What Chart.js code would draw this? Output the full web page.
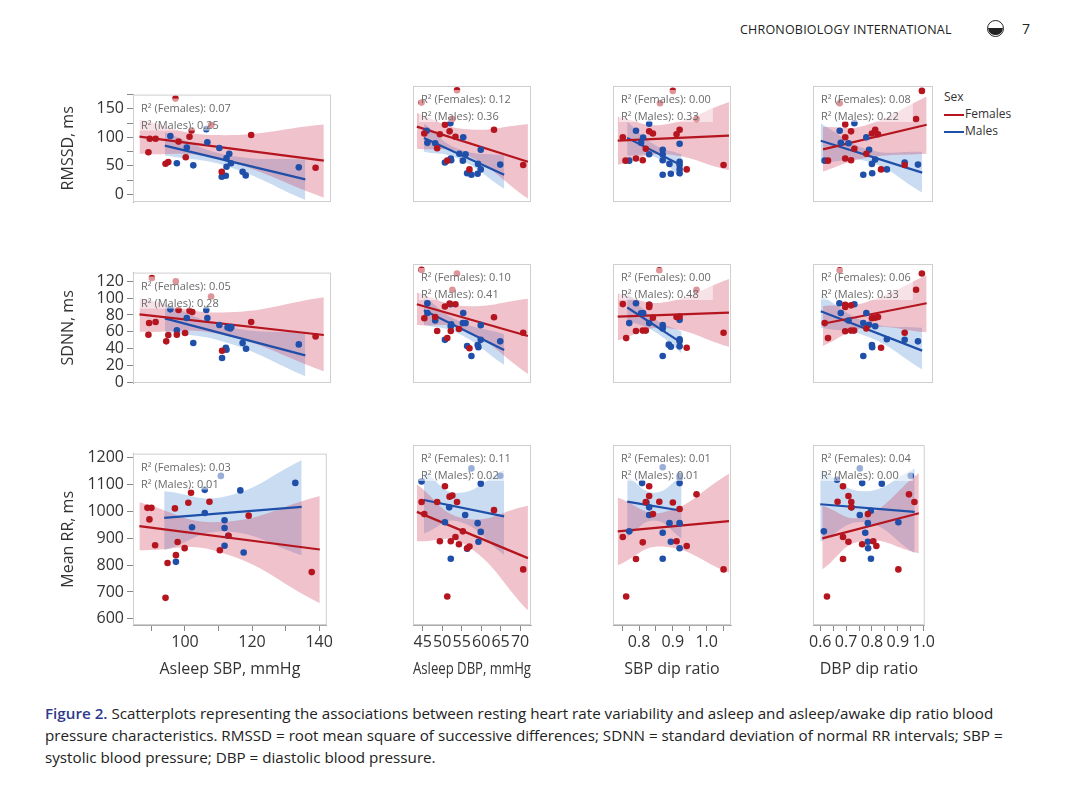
<!DOCTYPE html>
<html><head><meta charset="utf-8">
<script src="https://cdn.jsdelivr.net/npm/chart.js@4.4.1/dist/chart.umd.min.js"></script>
<style>
body{margin:0;background:#fff;font-family:"Open Sans",sans-serif;width:1087px;height:787px;position:relative;overflow:hidden}
.box{position:absolute}
#hdr{position:absolute;left:740px;top:21px;font-size:12.5px;color:#222;letter-spacing:0.2px}
#pg{position:absolute;left:1022px;top:19px;font-size:14px;color:#222}
#ico{position:absolute;left:987px;top:20px;width:17px;height:17px;border:1.5px solid #222;border-radius:50%;box-sizing:border-box;overflow:hidden}
#ico:after{content:"";position:absolute;left:0;top:7px;width:15px;height:7px;background:#222;border-radius:0 0 8px 8px}
#cap{position:absolute;left:45px;top:702px;width:1000px;font-size:15.2px;line-height:22px;color:#222}
#cap b{color:#2e3a8c;font-weight:600}
#leg{position:absolute;left:944px;top:88px;font-size:12px;color:#333;line-height:17px}
#leg .ln{display:inline-block;width:20px;height:2px;vertical-align:middle;margin-right:1px}
</style></head><body>
<div id="hdr">CHRONOBIOLOGY INTERNATIONAL</div><div id="ico"></div><div id="pg">7</div>
<div id="leg">Sex<br><span class="ln" style="background:#b5151f"></span>Females<br><span class="ln" style="background:#1f4fa8"></span>Males</div>
<div id="cap"><b>Figure 2.</b> Scatterplots representing the associations between resting heart rate variability and asleep and asleep/awake dip ratio blood pressure characteristics. RMSSD = root mean square of successive differences; SDNN = standard deviation of normal RR intervals; SBP = systolic blood pressure; DBP = diastolic blood pressure.</div>
<script>
// ---------- axes / labels ----------
const rowTitles = ["RMSSD, ms","SDNN, ms","Mean RR, ms"];
const colTitles = ["Asleep SBP, mmHg","Asleep DBP, mmHg","SBP dip ratio","DBP dip ratio"];
const rowRanges = [[-13.5,175],[-1,130.5],[577,1215]];
const rowSteps = [25,20,100];
const rowLabelEvery = [50,20,100];
const colRanges = [[84.5,142.3],[42.5,72.8],[0.723,1.072],[0.572,1.004]];
const colSteps = [10,5,0.05,0.05];
const colLabelEvery = [20,5,0.1,0.1];
const r2Females = [["0.07","0.12","0.00","0.08"],["0.05","0.10","0.00","0.06"],["0.03","0.11","0.01","0.04"]];
const r2Males   = [["0.25","0.36","0.33","0.22"],["0.28","0.41","0.48","0.33"],["0.01","0.02","0.01","0.00"]];

// ---------- RMSSD ----------
const rmssd_sbp_F=[[89,73.8],[89.4,97.4],[91.1,97.4],[94,53.7],[94.8,56.5],[97.8,92.5],[99.9,65],[101,101],[101.6,112],[107.3,121.4],[110.4,39.5],[119,104],[137.8,46.6],[96.9,168]];
const rmssd_sbp_M=[[95.4,102.4],[97.3,54.4],[100.2,82],[102.1,50.8],[105.9,114.4],[106.2,91.4],[109.7,81.2],[110.4,30.7],[111.6,32.5],[111.8,63.5],[112.6,71.3],[111.8,48.4],[113.1,54.4],[116.5,39.5],[117.4,33.2],[132.9,47.3]];
const rmssd_sbp_FL=[[86.4,101.3],[140.2,59]], rmssd_sbp_ML=[[93.8,85.4],[134.8,26.1]];
const rmssd_sbp_FB=[[86.4,71,131],[108,64,104],[140.2,-6,122.5]], rmssd_sbp_MB=[[93.8,68,109],[112,49,69],[134.8,-10,61]];

const rmssd_dbp_F=[[45.4,97.8],[48.7,73.8],[49.4,96.7],[50.7,112],[51.3,53.7],[51.9,101.3],[52.6,121.4],[53.4,92.5],[57,39.5],[63.3,104],[70.8,46.6],[53.8,168],[44.7,148]];
const rmssd_dbp_M=[[46,102.4],[46.2,82.6],[48.2,82],[50.7,50.8],[52.1,114.4],[52.2,57],[52.3,54.4],[54.4,65],[55.4,91.8],[55.3,53.7],[56,64.2],[56.4,33.2],[57.5,30.7],[59.1,32.5],[59.2,48.4],[59.9,39.5],[59.9,71.3],[64.9,47.3]];
const rmssd_dbp_FL=[[43.5,109],[72,51.9]], rmssd_dbp_ML=[[45.3,90.7],[65.9,30.7]];
const rmssd_dbp_FB=[[43.5,73,131],[55.5,65,105],[72,-8,113]], rmssd_dbp_MB=[[45.3,68,114],[54,57,73],[65.9,8,62]];

const rmssd_sdip_F=[[0.752,91.8],[0.76,53.7],[0.791,57.2],[0.811,54.4],[0.82,73],[0.83,101.3],[0.841,97.8],[0.9,167],[0.862,147],[0.911,96.7],[0.92,104],[0.97,121.4],[0.941,39.5],[1.05,46.6]];
const rmssd_sdip_M=[[0.771,53.7],[0.791,102.4],[0.806,82.6],[0.812,91.4],[0.83,113.7],[0.83,64.2],[0.87,71.3],[0.87,63.5],[0.87,54.4],[0.89,48.4],[0.87,30.7],[0.894,32.5],[0.92,81.2],[0.92,51.9],[0.92,46.6],[0.92,39.5],[0.92,33.2]];
const rmssd_sdip_FL=[[0.737,86.1],[1.066,94.2]], rmssd_sdip_ML=[[0.765,90.7],[0.926,45.9]];
const rmssd_sdip_FB=[[0.737,47,125],[0.87,64,112],[1.066,38,149]], rmssd_sdip_MB=[[0.765,62,117],[0.845,60,80],[0.926,25,64]];

const rmssd_ddip_F=[[0.626,53.7],[0.688,112.6],[0.688,91.8],[0.688,57.2],[0.709,101.3],[0.709,54.4],[0.721,73],[0.668,147],[0.764,65],[0.784,97.8],[0.796,104],[0.806,96.7],[0.817,39.5],[0.902,46.6],[0.943,121.4],[0.964,167]];
const rmssd_ddip_M=[[0.614,53.7],[0.668,102.4],[0.672,82.6],[0.7,82],[0.721,114.4],[0.753,30.7],[0.764,91.8],[0.774,71.3],[0.784,48.4],[0.785,33.2],[0.796,55.4],[0.838,39.5],[0.902,50.8],[0.95,47.3]];
const rmssd_ddip_FL=[[0.608,72],[0.981,112]], rmssd_ddip_ML=[[0.6,86.1],[0.965,34.2]];
const rmssd_ddip_FB=[[0.608,36,108],[0.76,58,111],[0.981,65,158]], rmssd_ddip_MB=[[0.6,50,114],[0.77,52,72],[0.965,2,68]];

// ---------- SDNN ----------
const sdnn_sbp_F=[[89,56.4],[89.2,70.5],[91.1,71.7],[94.2,48.6],[94.8,56.2],[97.3,56.4],[97.8,86],[99.7,58.6],[101,85],[101.8,83.6],[90,124],[97,120],[107.3,102],[110.5,37.4],[119,71.7],[137.8,54.5]];
const sdnn_sbp_M=[[95.4,86.7],[97.3,61.7],[100.2,76.4],[102.1,46.7],[105.9,86],[106.2,76.4],[109.7,68.1],[110.5,28.8],[111.6,41],[111.8,38.6],[112.1,65.2],[112.9,64],[113.2,65.7],[116.5,46.7],[117.5,39.8],[132.9,45]];
const sdnn_sbp_FL=[[86.4,80.7],[140.2,56.2]], sdnn_sbp_ML=[[93.8,76],[134.8,31.9]];
const sdnn_sbp_FB=[[86.4,60,100],[110,57,83],[140.2,13,101]], sdnn_sbp_MB=[[93.8,60,93],[112,47,66],[134.8,7,58]];

const sdnn_dbp_F=[[44.7,124],[45.4,70.5],[48.7,56.4],[50.7,83.6],[51.3,48.6],[51.9,86.7],[52.2,56.4],[53.4,86],[53.8,120],[52.6,102],[54.3,58.6],[57,37.4],[63.3,71.7],[70.8,54.5],[48.2,72]];
const sdnn_dbp_M=[[46.2,87],[46.2,76.4],[48.2,68.1],[50.7,46.7],[52.1,86],[52.2,61.7],[52.3,64],[55.4,76.4],[55.3,65.2],[56,65.2],[56.4,39.8],[57.5,28.8],[59.1,41],[59.3,38.6],[59.9,46.7],[59.9,62.9],[64.9,45]];
const sdnn_dbp_FL=[[43.5,86],[72,51]], sdnn_dbp_ML=[[45.3,79.5],[65.9,35.5]];
const sdnn_dbp_FB=[[43.5,63,99],[55.5,58,84],[72,9,92]], sdnn_dbp_MB=[[45.3,63,95],[54,54,68],[65.9,19,53]];

const sdnn_sdip_F=[[0.752,86.2],[0.762,48.6],[0.791,56.4],[0.811,56.9],[0.82,56.9],[0.83,83.1],[0.83,85.5],[0.841,71.2],[0.86,123.6],[0.911,71.9],[0.92,72.4],[0.97,102],[0.941,37.9],[1.05,54.5]];
const sdnn_sdip_M=[[0.771,65.2],[0.791,87.1],[0.806,76],[0.812,76.4],[0.83,85.5],[0.83,65.2],[0.87,62.9],[0.87,59.3],[0.888,41.4],[0.894,39],[0.87,28.8],[0.92,68.8],[0.92,47.4],[0.92,45],[0.92,39.5]];
const sdnn_sdip_FL=[[0.737,72.4],[1.066,76.7]], sdnn_sdip_ML=[[0.765,82.4],[0.926,43.3]];
const sdnn_sdip_FB=[[0.737,46,98],[0.87,60,88],[1.066,39,114]], sdnn_sdip_MB=[[0.765,68,99],[0.845,56,70],[0.926,32,56]];

const sdnn_ddip_F=[[0.626,48.6],[0.614,65.2],[0.688,85.5],[0.688,83.1],[0.688,56.2],[0.709,84.8],[0.709,56.9],[0.72,56.9],[0.668,123.6],[0.764,59.3],[0.784,70.5],[0.796,71.2],[0.806,71.9],[0.817,37.9],[0.902,54.5],[0.943,102],[0.964,120]];
const sdnn_ddip_M=[[0.667,87.1],[0.672,76.4],[0.7,68.1],[0.721,86],[0.753,28.8],[0.764,76.4],[0.753,65.2],[0.774,63.3],[0.784,41],[0.785,38.6],[0.796,61.7],[0.838,47.4],[0.902,46.7],[0.95,45]];
const sdnn_ddip_FL=[[0.608,64.5],[0.981,87.1]], sdnn_ddip_ML=[[0.6,78.3],[0.965,34.8]];
const sdnn_ddip_FB=[[0.608,40,84],[0.76,60,88],[0.981,55,118]], sdnn_ddip_MB=[[0.6,60,96],[0.77,50,66],[0.965,14,60]];

// ---------- Mean RR ----------
const rr_sbp_F=[[88.8,1013],[90,1013],[89.4,970],[91.1,874],[94.2,678],[94.8,808],[97,1011],[97.3,837],[97.8,886],[99.9,863],[101,1032],[101.8,1069],[107.3,1036],[110.4,855],[113,909],[119,984],[137.8,774]];
const rr_sbp_M=[[97.3,812],[102.1,941],[105.9,994],[105.9,1080],[110.7,1132],[111.8,967],[111.8,938],[111.8,872],[112.9,909],[116.5,1078],[117.5,847],[132.9,1106]];
const rr_sbp_FL=[[86.4,945],[140.2,858]], rr_sbp_ML=[[93.8,976],[134.8,1017]];
const rr_sbp_FB=[[86.4,855,1034],[110,850,960],[140.2,658,1057]], rr_sbp_MB=[[93.8,855,1075],[112,925,1055],[134.8,837,1190]];

const rr_dbp_F=[[44.7,1013],[45.4,970],[48.7,1013],[49.4,874],[50.7,1069],[51.3,678],[51.9,1032],[52.2,874],[52.6,1036],[53.4,889],[53.8,1013],[54.3,863],[55.3,909],[56.4,849],[57,855],[63.3,984],[70.8,774]];
const rr_dbp_M=[[44.7,1086],[51.8,994],[50.7,941],[52.2,812],[55.9,967],[56.4,847],[57.5,1132],[59.1,938],[59.3,872],[59.9,1078],[59.9,907],[64.9,1106]];
const rr_dbp_FL=[[43.5,978],[72,814]], rr_dbp_ML=[[45.3,1020],[65.9,962]];
const rr_dbp_FB=[[43.5,874,1075],[55.5,865,955],[72,629,1000]], rr_dbp_MB=[[45.3,901,1121],[54,945,1045],[65.9,826,1127]];

const rr_sdip_F=[[0.752,889],[0.762,678],[0.791,811],[0.811,870],[0.82,1013],[0.83,1034],[0.83,1069],[0.841,970],[0.86,1014],[0.9,1011],[0.911,874],[0.92,988],[0.941,857],[0.97,1040],[1.05,774]];
const rr_sdip_M=[[0.771,909],[0.809,1080],[0.822,1011],[0.83,994],[0.83,967],[0.87,904],[0.87,812],[0.87,1136],[0.89,938],[0.894,872],[0.92,1106],[0.92,1098],[0.92,1080],[0.92,938],[0.92,849]];
const rr_sdip_FL=[[0.737,909],[1.066,945]], rr_sdip_ML=[[0.765,1014],[0.926,982]];
const rr_sdip_FB=[[0.737,789,1028],[0.87,855,976],[1.066,762,1113]], rr_sdip_MB=[[0.765,889,1103],[0.845,947,1046],[0.926,884,1103]];

const rr_ddip_F=[[0.626,678],[0.667,1014],[0.688,889],[0.688,811],[0.688,1069],[0.709,1034],[0.709,872],[0.72,1013],[0.72,994],[0.762,863],[0.784,970],[0.805,874],[0.817,857],[0.902,774],[0.943,1040],[0.964,1013]];
const rr_ddip_M=[[0.614,909],[0.665,1092],[0.721,994],[0.753,967],[0.762,1080],[0.753,1132],[0.774,904],[0.784,938],[0.784,872],[0.785,849],[0.796,812],[0.796,982],[0.838,1078],[0.902,941],[0.95,1106]];
const rr_ddip_FL=[[0.608,884],[0.981,973]], rr_ddip_ML=[[0.6,1005],[0.965,978]];
const rr_ddip_FB=[[0.608,774,1000],[0.76,875,960],[0.981,831,1116]], rr_ddip_MB=[[0.6,872,1127],[0.77,941,1051],[0.965,831,1132]];

const panels = [
 [[rmssd_sbp_F,rmssd_sbp_M,rmssd_sbp_FL,rmssd_sbp_ML,rmssd_sbp_FB,rmssd_sbp_MB],[rmssd_dbp_F,rmssd_dbp_M,rmssd_dbp_FL,rmssd_dbp_ML,rmssd_dbp_FB,rmssd_dbp_MB],[rmssd_sdip_F,rmssd_sdip_M,rmssd_sdip_FL,rmssd_sdip_ML,rmssd_sdip_FB,rmssd_sdip_MB],[rmssd_ddip_F,rmssd_ddip_M,rmssd_ddip_FL,rmssd_ddip_ML,rmssd_ddip_FB,rmssd_ddip_MB]],
 [[sdnn_sbp_F,sdnn_sbp_M,sdnn_sbp_FL,sdnn_sbp_ML,sdnn_sbp_FB,sdnn_sbp_MB],[sdnn_dbp_F,sdnn_dbp_M,sdnn_dbp_FL,sdnn_dbp_ML,sdnn_dbp_FB,sdnn_dbp_MB],[sdnn_sdip_F,sdnn_sdip_M,sdnn_sdip_FL,sdnn_sdip_ML,sdnn_sdip_FB,sdnn_sdip_MB],[sdnn_ddip_F,sdnn_ddip_M,sdnn_ddip_FL,sdnn_ddip_ML,sdnn_ddip_FB,sdnn_ddip_MB]],
 [[rr_sbp_F,rr_sbp_M,rr_sbp_FL,rr_sbp_ML,rr_sbp_FB,rr_sbp_MB],[rr_dbp_F,rr_dbp_M,rr_dbp_FL,rr_dbp_ML,rr_dbp_FB,rr_dbp_MB],[rr_sdip_F,rr_sdip_M,rr_sdip_FL,rr_sdip_ML,rr_sdip_FB,rr_sdip_MB],[rr_ddip_F,rr_ddip_M,rr_ddip_FL,rr_ddip_ML,rr_ddip_FB,rr_ddip_MB]]
];

// ---------- layout ----------
const colX=[133,335,535,735,937], rowY=[82,260,441,625];
const YAXW=78, XAXH=58;
const RED='#b5151f', BLUE='#1f4fa8';
const pts=a=>a.map(p=>({x:p[0],y:p[1]}));

const deco={id:'deco',
 afterDatasetsDraw(c,args,o){
  const a=c.chartArea,ctx=c.ctx;ctx.save();
  ctx.font='11px "Open Sans"';
  const t1='R² (Females): '+o.f, t2='R² (Males): '+o.m;
  ctx.fillStyle='rgba(255,255,255,0.55)';
  ctx.fillRect(a.left+6,a.top+4,ctx.measureText(t1).width+4,32);
  ctx.fillStyle='#6a6a6a';ctx.textBaseline='alphabetic';
  ctx.fillText(t1,a.left+8,a.top+17);ctx.fillText(t2,a.left+8,a.top+34);
  ctx.strokeStyle='#cfcfcf';ctx.lineWidth=1;
  ctx.strokeRect(a.left+0.5,a.top+0.5,a.right-a.left-1,a.bottom-a.top-1);
  ctx.restore();
 }};

function near(v,s){return Math.abs(v/s-Math.round(v/s))<1e-6;}

for(let r=0;r<3;r++)for(let c=0;c<4;c++){
  const left=c===0, bottom=r===2;
  const x0=left?colX[0]-YAXW:colX[c], y0=rowY[r];
  const w=colX[c+1]-x0, h=(bottom?rowY[3]+XAXH:rowY[r+1])-y0;
  const d=document.createElement('div');d.className='box';
  d.style.cssText=`left:${x0}px;top:${y0}px;width:${w}px;height:${h}px`;
  const cv=document.createElement('canvas');
  cv.width=w;cv.height=h;cv.style.width=w+'px';cv.style.height=h+'px';
  d.appendChild(cv);document.body.appendChild(d);
  const [F,M,FL,ML,FB,MB]=panels[r][c];
  const band=(B,col)=>[
    {type:'line',data:B.map(b=>({x:b[0],y:b[1]})),borderWidth:0,pointRadius:0,tension:0.45,fill:false,order:10},
    {type:'line',data:B.map(b=>({x:b[0],y:b[2]})),borderWidth:0,pointRadius:0,tension:0.45,fill:'-1',backgroundColor:col,order:10}];
  const ds=[...band(FB,'rgba(205,70,100,0.33)'),...band(MB,'rgba(90,150,215,0.33)'),
    {type:'line',data:pts(FL),borderColor:RED,borderWidth:2.2,pointRadius:0,order:5},
    {type:'line',data:pts(ML),borderColor:BLUE,borderWidth:2.2,pointRadius:0,order:5},
    {type:'scatter',data:pts(F),backgroundColor:RED,borderWidth:0,pointRadius:3.3,order:1},
    {type:'scatter',data:pts(M),backgroundColor:BLUE,borderWidth:0,pointRadius:3.3,order:1}];
  new Chart(cv,{type:'scatter',data:{datasets:ds},plugins:[deco],
   options:{responsive:false,animation:false,
    layout:{padding:0},
    plugins:{legend:{display:false},tooltip:{enabled:false},deco:{f:r2Females[r][c],m:r2Males[r][c]}},
    scales:{
     x:{type:'linear',min:colRanges[c][0],max:colRanges[c][1],display:bottom,
        afterFit:s=>{s.height=XAXH;},
        afterBuildTicks:s=>{const t=[];const st=colSteps[c];for(let v=Math.ceil(colRanges[c][0]/st-1e-9)*st;v<=colRanges[c][1]+1e-9;v+=st)t.push({value:+v.toFixed(4)});s.ticks=t;},
        ticks:{autoSkip:false,maxRotation:0,color:'#333',font:{size:16,family:'"Open Sans"'},padding:2,
          callback:v=>near(v,colLabelEvery[c])?(colSteps[c]<1?v.toFixed(1):String(v)):''},
        grid:{drawOnChartArea:false,tickLength:6,color:'#888'},border:{color:'#aaa'},
        title:{display:true,text:colTitles[c],color:'#333',font:{size:16,family:'"Open Sans"'},padding:{top:0}}},
     y:{min:rowRanges[r][0],max:rowRanges[r][1],display:left,
        afterFit:s=>{s.width=YAXW;},
        afterBuildTicks:s=>{const t=[];const st=rowSteps[r];for(let v=Math.ceil(rowRanges[r][0]/st)*st;v<=rowRanges[r][1];v+=st)t.push({value:v});s.ticks=t;},
        ticks:{autoSkip:false,color:'#333',font:{size:16,family:'"Open Sans"'},padding:3,
          callback:v=>v%rowLabelEvery[r]===0?String(v):''},
        grid:{drawOnChartArea:false,tickLength:6,color:'#888'},border:{color:'#aaa'},
        title:{display:true,text:rowTitles[r],color:'#333',font:{size:16,family:'"Open Sans"'},padding:{bottom:2}}}
    }}});
}
</script>
</body></html>
